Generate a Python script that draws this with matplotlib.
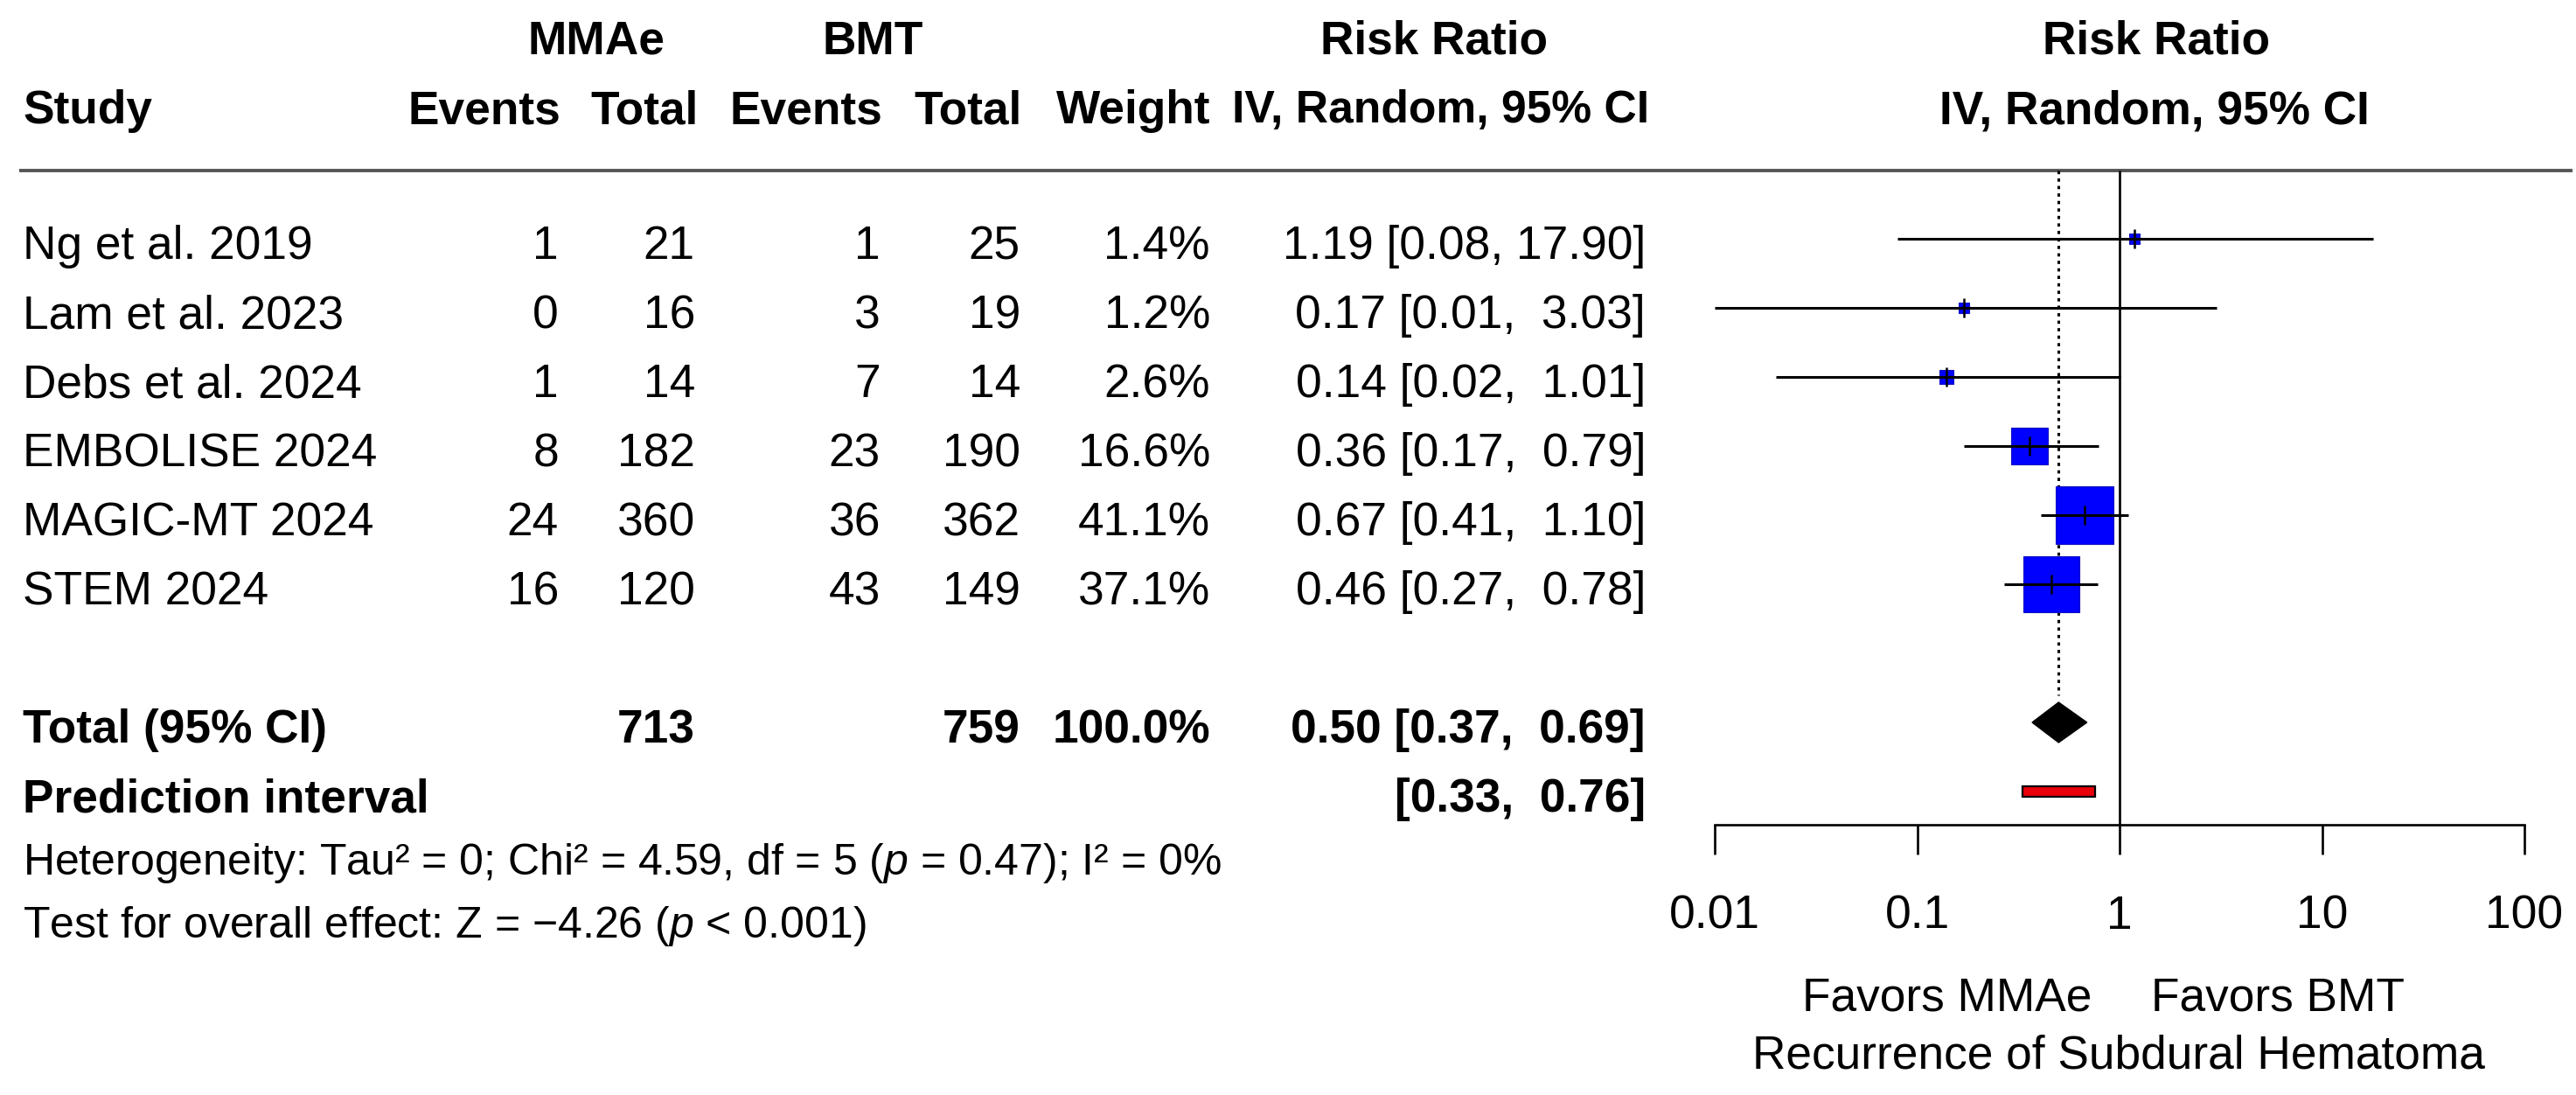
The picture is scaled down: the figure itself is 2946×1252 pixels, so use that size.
import matplotlib
matplotlib.use("Agg")
import matplotlib.pyplot as plt
from matplotlib.patches import Polygon, Rectangle
from matplotlib.ticker import FixedLocator, FixedFormatter, NullLocator
import numpy as np

# ---------------- data ----------------
studies = ["Ng et al. 2019", "Lam et al. 2023", "Debs et al. 2024",
           "EMBOLISE 2024", "MAGIC-MT 2024", "STEM 2024"]
ev_mmae = [1, 0, 1, 8, 24, 16]
n_mmae = [21, 16, 14, 182, 360, 120]
ev_bmt = [1, 3, 7, 23, 36, 43]
n_bmt = [25, 19, 14, 190, 362, 149]
weights = [1.4, 1.2, 2.6, 16.6, 41.1, 37.1]
rr = [1.19, 0.17, 0.14, 0.36, 0.67, 0.46]
ci_lo = [0.08, 0.01, 0.02, 0.17, 0.41, 0.27]
ci_hi = [17.90, 3.03, 1.01, 0.79, 1.10, 0.78]

total_mmae = 713
total_bmt = 759
pooled = [0.50, 0.37, 0.69]
pred_int = [0.33, 0.76]

tick_vals = [0.01, 0.1, 1, 10, 100]
tick_labels = ["0.01", "0.1", "1", "10", "100"]

# ---------------- style / layout ----------------
plt.rcParams['font.family'] = ['Liberation Sans', 'DejaVu Sans']
plt.rcParams['mathtext.fontset'] = 'custom'
plt.rcParams['mathtext.rm'] = 'Liberation Sans'
plt.rcParams['mathtext.it'] = 'Liberation Sans:italic'

W, H, DPI = 2946, 1252, 100
ROW0, ROWH = 273, 79          # pixel y of first study row, row height
FS = 38.3
FS_SMALL = 36

def row(ypx):
    return (ypx - ROW0) / ROWH

fig = plt.figure(figsize=(W / DPI, H / DPI), dpi=DPI)
fig.patch.set_facecolor("white")

# overlay axes for the table (x in pixels, y in row units)
tx = fig.add_axes([0, 0, 1, 1])
tx.set_xlim(0, W)
tx.set_ylim(row(H), row(0))
tx.axis("off")

# forest plot axes (log scale)
X001, X100, YAX = 1961, 2887, 943
fx = fig.add_axes([X001 / W, (H - YAX) / H, (X100 - X001) / W, YAX / H])
fx.set_xscale("log")
fx.set_xlim(0.01, 100)
fx.set_ylim(row(YAX), row(0))
fx.patch.set_visible(False)
for s in ["top", "left", "right"]:
    fx.spines[s].set_visible(False)
fx.spines["bottom"].set_linewidth(1.9)
fx.yaxis.set_visible(False)
fx.xaxis.set_major_locator(FixedLocator(tick_vals))
fx.xaxis.set_major_formatter(FixedFormatter(tick_labels))
fx.xaxis.set_minor_locator(NullLocator())
fx.tick_params(axis="x", direction="out", length=24.5, width=1.9,
               labelsize=FS, pad=33)

rows = np.arange(len(studies))

# reference lines
y_line = row(195)
fx.vlines(1, y_line, row(YAX), color="black", lw=1.9, zorder=2)
fx.vlines(pooled[0], y_line, row(795), color="black", lw=2.2,
          linestyles=(0, (1.2, 1.6)), zorder=2)

# study squares and CIs
for i in rows:
    ms = 10.4 * np.sqrt(weights[i]) * 72 / DPI
    fx.plot(rr[i], i, marker="s", markersize=ms, color="#0000FF",
            markeredgecolor="#1010C0", markeredgewidth=0.8, zorder=3)
fx.hlines(rows, ci_lo, ci_hi, color="black", lw=2.2, zorder=4)
fx.vlines(rr, rows - 0.14, rows + 0.14, color="black", lw=1.8, zorder=4)

# pooled diamond
yt = 7
dh = 23 / ROWH
fx.add_patch(Polygon([(pooled[1], yt), (pooled[0], yt - dh),
                      (pooled[2], yt), (pooled[0], yt + dh)],
                     closed=True, facecolor="black", edgecolor="black", zorder=4))
# prediction interval
yp = 8
ph = 12 / ROWH
fx.add_patch(Rectangle((pred_int[0], yp - ph / 2), pred_int[1] - pred_int[0], ph,
                       facecolor="#E8000B", edgecolor="black", lw=1.6, zorder=4))

# header line
tx.plot([22, 2942], [y_line, y_line], color="#555555", lw=2.8,
        solid_capstyle="butt")

# ---------------- table text ----------------
TOFF = 0.12
h1, h2 = row(48), row(127)
bold = dict(fontsize=FS, fontweight="bold", va="center")
tx.text(682, h1, "MMAe", ha="center", **bold)
tx.text(998, h1, "BMT", ha="center", **bold)
tx.text(1640, h1, "Risk Ratio", ha="center", **bold)
tx.text(2466, h1, "Risk Ratio", ha="center", **bold)
tx.text(26, h2, "Study", ha="left", **bold)
tx.text(641, h2, "Events", ha="right", **bold)
tx.text(799, h2, "Total", ha="right", **bold)
tx.text(1009, h2, "Events", ha="right", **bold)
tx.text(1169, h2, "Total", ha="right", **bold)
tx.text(1384, h2, "Weight", ha="right", **bold)
tx.text(1886, h2, "IV, Random, 95% CI", ha="right", fontsize=37.2,
        fontweight="bold", va="center")
tx.text(2464, h2, "IV, Random, 95% CI", ha="center", **bold)

reg = dict(fontsize=FS, va="center")
for i in rows:
    y = i + TOFF
    tx.text(26, y, studies[i], ha="left", **reg)
    tx.text(639, y, str(ev_mmae[i]), ha="right", **reg)
    tx.text(795, y, str(n_mmae[i]), ha="right", **reg)
    tx.text(1007, y, str(ev_bmt[i]), ha="right", **reg)
    tx.text(1167, y, str(n_bmt[i]), ha="right", **reg)
    tx.text(1384, y, f"{weights[i]:.1f}%", ha="right", **reg)
    hi_s = f"{ci_hi[i]:.2f}"
    sep = ", " if len(hi_s) > 4 else ",  "
    tx.text(1882, y, f"{rr[i]:.2f} [{ci_lo[i]:.2f}{sep}{hi_s}]", ha="right", **reg)

y = yt + TOFF
tx.text(26, y, "Total (95% CI)", ha="left", **bold)
tx.text(795, y, str(total_mmae), ha="right", **bold)
tx.text(1167, y, str(total_bmt), ha="right", **bold)
tx.text(1384, y, f"{sum(weights):.1f}%", ha="right", **bold)
tx.text(1882, y, f"{pooled[0]:.2f} [{pooled[1]:.2f},  {pooled[2]:.2f}]", ha="right", **bold)
y = yp + TOFF
tx.text(26, y, "Prediction interval", ha="left", **bold)
tx.text(1882, y, f"[{pred_int[0]:.2f},  {pred_int[1]:.2f}]", ha="right", **bold)

small = dict(fontsize=FS_SMALL, va="center", ha="left")
tx.text(26, row(987), "Heterogeneity: Tau² = 0; Chi² = 4.59, df = 5 ($\\mathit{p}$ = 0.47); I² = 0%", **small)
tx.text(26, row(1059), "Test for overall effect: Z = \u22124.26 ($\\mathit{p}$ < 0.001)", **small)

tx.text(2392, row(1142), "Favors MMAe", ha="right", fontsize=FS, va="center")
tx.text(2460, row(1142), "Favors BMT", ha="left", fontsize=FS, va="center")
tx.text(2423, row(1207), "Recurrence of Subdural Hematoma", ha="center", fontsize=FS, va="center")

fig.savefig("out.png", dpi=DPI, facecolor="white")
